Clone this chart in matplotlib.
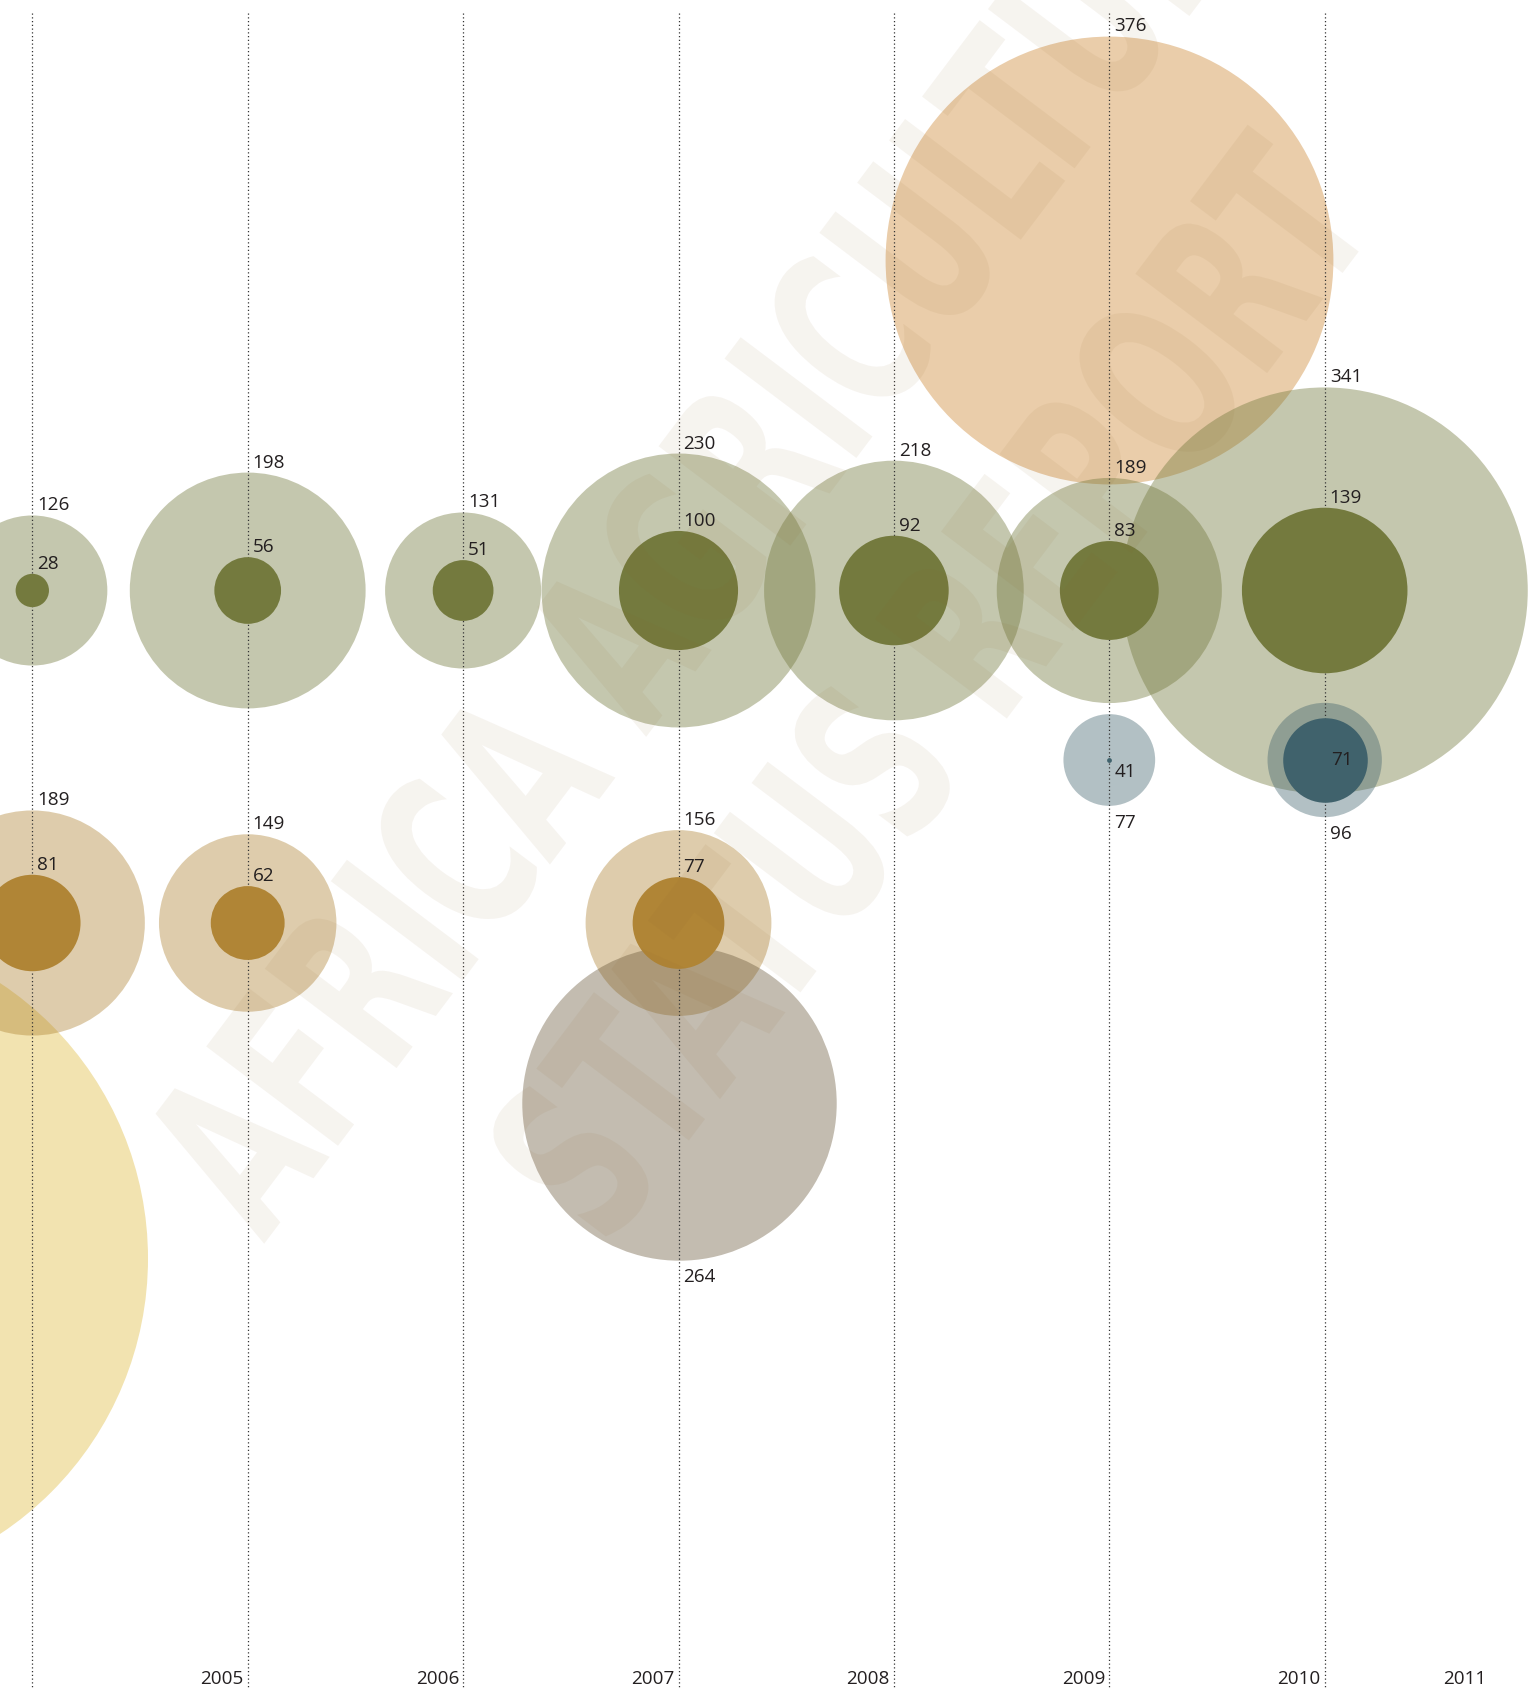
import numpy as np
import matplotlib.pyplot as plt
from matplotlib.transforms import Affine2D
from matplotlib.patheffects import AbstractPathEffect
from matplotlib.textpath import TextPath
from matplotlib.font_manager import FontProperties

# Vrednosti po letih
years = [2004, 2005, 2006, 2007, 2008, 2009, 2010]
green_outer = [126, 198, 131, 230, 218, 189, 341]
green_inner = [28, 56, 51, 100, 92, 83, 139]

blue_years = [2009, 2010]
blue_outer = [77, 96]
blue_inner = [41, 71]

tan_years = [2004, 2005, 2007]
tan_outer = [189, 149, 156]
tan_inner = [81, 62, 77]

orange_years = [2009]
orange_vals = [376]

grey_years = [2007]
grey_vals = [264]

yellow_years = [2003]
yellow_vals = [555]

year_labels = ['2005', '2006', '2007', '2008', '2009', '2010', '2011']
year_label_pos = [2005, 2006, 2007, 2008, 2009, 2010, 2010.77]

wm_lines = ['AFRICA AGRICULTURE', 'STATUS REPORT']

# Postavitev (v pikslih)
W, H, DPI = 1530, 1689, 100
X0, STEP = 32.3, 215.4          # x leta 2004 in razmik med leti
R_PER_UNIT = 0.5955             # polmer kroga v px na enoto
ROW_GREEN, ROW_BLUE, ROW_TAN = 590.5, 760, 923
ROW_ORANGE, ROW_GREY, ROW_YELLOW = 259.7, 1103, 1258

FONT = ['Open Sans', 'DejaVu Sans']
TXT = '#231f20'
FS = 13.6


def msize(vals):
    d_pt = 2 * R_PER_UNIT * np.asarray(vals, float) * 72 / DPI
    return d_pt ** 2


def rad(v):
    return R_PER_UNIT * v


def dx(p):
    return p / STEP


def xdata(px):
    return 2004 + (px - X0) / STEP


class Squeeze(AbstractPathEffect):
    """Vodoravno stisne črke (ožja pisava)."""

    def __init__(self, sx):
        super().__init__()
        self.sx = sx

    def draw_path(self, renderer, gc, tpath, affine, rgbFace=None):
        renderer.draw_path(gc, tpath, Affine2D().scale(self.sx, 1) + affine, rgbFace)


fig = plt.figure(figsize=(W / DPI, H / DPI), dpi=DPI)
ax = fig.add_axes([0, 0, 1, 1])
ax.set_xlim(xdata(0), xdata(W))
ax.set_ylim(H, 0)
ax.axis('off')

# Veliki krogi v ozadju
ax.scatter(yellow_years, [ROW_YELLOW] * len(yellow_years), s=msize(yellow_vals),
           color='#f2e3b0', linewidths=0, zorder=1)
ax.scatter(orange_years, [ROW_ORANGE] * len(orange_years), s=msize(orange_vals),
           color='#eacdaa', linewidths=0, zorder=1)

# Svetli (zunanji) krogi
ax.scatter(tan_years, [ROW_TAN] * len(tan_years), s=msize(tan_outer),
           color='#b08536', alpha=0.41, linewidths=0, zorder=2)
ax.scatter(years, [ROW_GREEN] * len(years), s=msize(green_outer),
           color='#747a3e', alpha=0.42, linewidths=0, zorder=2)
ax.scatter(blue_years, [ROW_BLUE] * len(blue_years), s=msize(blue_outer),
           color='#40626c', alpha=0.40, linewidths=0, zorder=2)
ax.scatter(grey_years, [ROW_GREY] * len(grey_years), s=msize(grey_vals),
           color='#69583a', alpha=0.40, linewidths=0, zorder=3)

# Pikčaste navpične črte
ax.vlines(years, 13, H, colors='#333333', linestyles=(0, (1, 2)),
          linewidth=0.9, zorder=4)

# Temni (notranji) krogi
ax.scatter(years, [ROW_GREEN] * len(years), s=msize(green_inner),
           color='#747a3e', linewidths=0, zorder=5)
ax.scatter(tan_years, [ROW_TAN] * len(tan_years), s=msize(tan_inner),
           color='#b08536', linewidths=0, zorder=5)
ax.scatter(blue_years[1:], [ROW_BLUE] * len(blue_years[1:]), s=msize(blue_inner[1:]),
           color='#40626c', linewidths=0, zorder=5)
# 2009: samo pika
ax.scatter(blue_years[:1], [ROW_BLUE], s=12, color='#40626c', linewidths=0, zorder=5)

# Vodni žig: dve vrstici, zasukani za ~53 stopinj
ANG = 53.0
CAP = 165.0                       # višina velikih črk v px
wm_font = FontProperties(family='DejaVu Sans', weight='bold')
em_px = CAP / 0.729
w2 = TextPath((0, 0), wm_lines[1], size=1, prop=wm_font).get_extents().width
sx = 1275 / (w2 * em_px)
a = np.radians(ANG)
d_vec = np.array([np.cos(a), -np.sin(a)])   # smer osnovne črte (y navzdol)
n_vec = np.array([np.sin(a), np.cos(a)])    # smer "navzdol" glede na črke
for txt, along, across in zip(wm_lines, [-835, -634], [877, 1154]):
    p = along * d_vec + (across + CAP / 2) * n_vec
    ax.text(xdata(p[0]), p[1], txt, rotation=ANG, rotation_mode='anchor',
            ha='left', va='baseline', fontsize=em_px * 72 / DPI,
            fontproperties=wm_font, color=(140 / 255, 100 / 255, 40 / 255),
            alpha=0.07, zorder=6, path_effects=[Squeeze(sx)])


# Oznake vrednosti
def label_above(xs, row, vals):
    for x, v in zip(xs, vals):
        ax.text(x + dx(5), row - rad(v) - 5, str(v), ha='left', va='baseline',
                fontsize=FS, family=FONT, color=TXT, zorder=7)


def label_below(xs, row, vals):
    for x, v in zip(xs, vals):
        ax.text(x + dx(5), row + rad(v) + 8, str(v), ha='left', va='top',
                fontsize=FS, family=FONT, color=TXT, zorder=7)


label_above(years, ROW_GREEN, green_outer)
label_above(years, ROW_GREEN, green_inner)
label_above(tan_years, ROW_TAN, tan_outer)
label_above(tan_years, ROW_TAN, tan_inner)
label_above(orange_years, ROW_ORANGE, orange_vals)
label_below(grey_years, ROW_GREY, grey_vals)
label_below(blue_years, ROW_BLUE, blue_outer)
ax.text(blue_years[0] + dx(5), ROW_BLUE + 12, str(blue_inner[0]), ha='left',
        va='center', fontsize=FS, family=FONT, color=TXT, zorder=7)
ax.text(blue_years[1] + dx(6), ROW_BLUE, str(blue_inner[1]), ha='left',
        va='center', fontsize=FS, family=FONT, color=TXT, zorder=7)

# Letnice spodaj
for x, lab in zip(year_label_pos, year_labels):
    ax.text(x - dx(4), H - 5, lab, ha='right', va='baseline',
            fontsize=FS, family=FONT, color=TXT, zorder=7)

fig.savefig('out.png', dpi=DPI)
